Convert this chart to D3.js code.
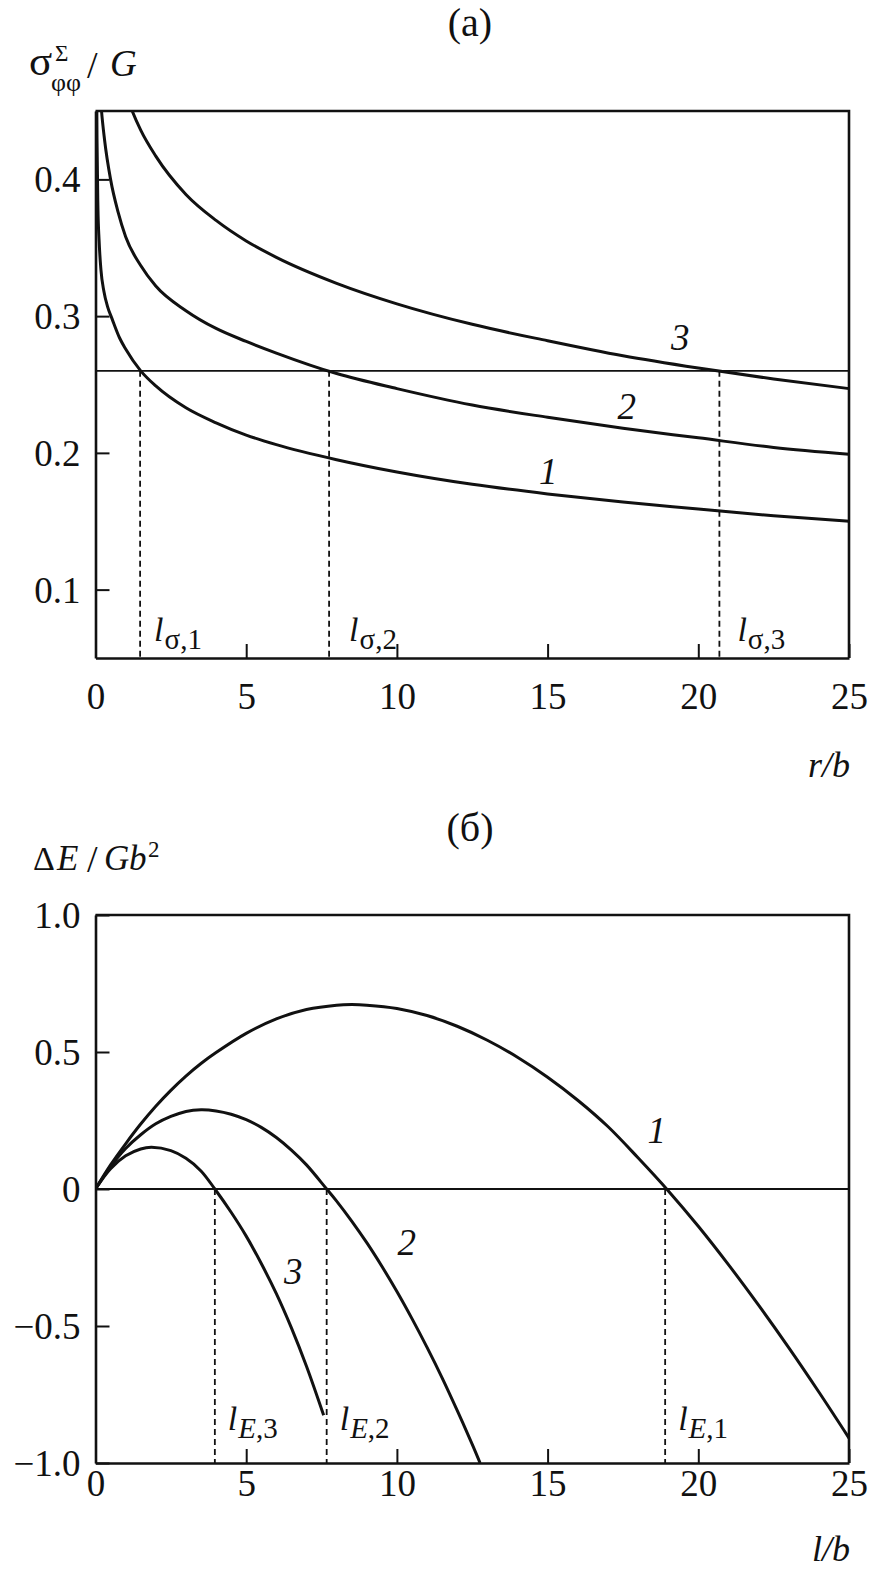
<!DOCTYPE html>
<html><head><meta charset="utf-8">
<script src="https://cdn.jsdelivr.net/npm/d3@7"></script>
<style>
body{margin:0;background:#fff;}
svg text{font-family:"Liberation Serif","Times New Roman",serif;fill:#111;}
</style></head><body>
<svg id="c" width="870" height="1571"></svg>
<script>
// ---------- data ----------
const xTicks = [0, 5, 10, 15, 20, 25];
const yTicksA = [0.1, 0.2, 0.3, 0.4];
const yTickLabelsA = ["0.1", "0.2", "0.3", "0.4"];
const yTicksB = [-1, -0.5, 0, 0.5, 1];
const yTickLabelsB = ["\u22121.0", "\u22120.5", "0", "0.5", "1.0"];

// panel (a): sigma_phiphi / G versus r/b
const sigma1 = [[0.03,0.50],[0.05,0.43],[0.08,0.38],[0.12,0.355],[0.18,0.334],[0.28,0.318],[0.4,0.307],[0.55,0.298],[0.8,0.284],[1,0.276],[1.5,0.260],[2,0.249],[3,0.233],[4,0.222],[5,0.213],[6,0.206],[8,0.195],[10,0.186],[12.5,0.177],[15,0.170],[17.5,0.164],[20,0.159],[22.5,0.154],[25,0.150]];
const sigma2 = [[0.15,0.465],[0.2,0.450],[0.3,0.429],[0.5,0.400],[0.75,0.376],[1,0.358],[1.5,0.337],[2,0.322],[3,0.304],[4,0.291],[5,0.2815],[6,0.273],[8,0.258],[10,0.247],[12.5,0.235],[15,0.226],[17.5,0.218],[20,0.211],[22.5,0.204],[25,0.199]];
const sigma3 = [[1,0.463],[1.2,0.451],[1.5,0.436],[2,0.417],[3,0.389],[4,0.370],[5,0.355],[6,0.343],[8,0.324],[10,0.309],[12.5,0.294],[15,0.282],[17.5,0.271],[20,0.262],[22.5,0.254],[25,0.247]];
const sigmaCrit = 0.26;
const lSigma = [1.48, 7.75, 20.7];
const lSigmaNames = ["\u03c3,1", "\u03c3,2", "\u03c3,3"];
const sigmaCurveNames = [["1", 15.02, 0.187], ["2", 17.63, 0.234], ["3", 19.4, 0.285]];

// panel (б): ΔE / Gb^2 versus l/b
const energy1 = [[0,0],[0.5,0.088],[1,0.165],[1.5,0.237],[2,0.302],[2.5,0.360],[3,0.412],[3.5,0.458],[4,0.498],[5,0.568],[6,0.621],[7,0.655],[8,0.671],[8.5,0.673],[9,0.671],[10,0.659],[11,0.633],[12,0.594],[13,0.543],[14,0.481],[15,0.408],[16,0.324],[17,0.228],[18,0.114],[19,-0.006],[20,-0.136],[21,-0.276],[22,-0.424],[23,-0.579],[24,-0.741],[25,-0.909]];
const energy2 = [[0,0],[0.5,0.082],[1,0.148],[1.5,0.198],[2,0.238],[2.5,0.265],[3,0.283],[3.5,0.289],[4,0.285],[4.5,0.273],[5,0.253],[5.5,0.225],[6,0.188],[6.5,0.142],[7,0.088],[7.67,0],[8,-0.044],[8.5,-0.117],[9,-0.196],[9.5,-0.282],[10,-0.374],[10.5,-0.473],[11,-0.578],[11.5,-0.689],[12,-0.808],[12.5,-0.932],[12.76,-1.0]];
const energy3 = [[0,0],[0.5,0.074],[1,0.121],[1.5,0.146],[1.86,0.152],[2.5,0.140],[3,0.112],[3.5,0.066],[3.96,0],[4.5,-0.085],[5,-0.172],[5.5,-0.272],[6,-0.382],[6.5,-0.507],[7,-0.647],[7.57,-0.826]];
const lEnergy = [18.9, 7.67, 3.96];
const lEnergyNames = ["E,1", "E,2", "E,3"];
const energyCurveNames = [["1", 18.62, 0.215], ["2", 10.33, -0.192], ["3", 6.56, -0.30]];

// ---------- drawing ----------
const svg = d3.select("#c");
const INK = "#111";
const FONT_TICK = 37;

function panel(opts) {
  const x = d3.scaleLinear().domain([0, 25]).range([95.5, 849]);
  const y = d3.scaleLinear().domain(opts.yDomain).range([opts.yBottom, opts.yTop]);
  const g = svg.append("g");
  const clipId = "clip" + opts.id;
  svg.append("clipPath").attr("id", clipId).append("rect")
    .attr("x", x(0)).attr("y", y.range()[1]).attr("width", x(25) - x(0)).attr("height", y.range()[0] - y.range()[1]);

  // reference horizontal line
  g.append("line").attr("x1", x(0)).attr("x2", x(25)).attr("y1", y(opts.refY)).attr("y2", y(opts.refY))
    .attr("stroke", INK).attr("stroke-width", 1.8);

  // dashed verticals
  g.selectAll(".dash").data(opts.dashes).enter().append("line")
    .attr("x1", d => x(d)).attr("x2", d => x(d))
    .attr("y1", y(opts.refY)).attr("y2", y(opts.yDomain[0]))
    .attr("stroke", INK).attr("stroke-width", 1.8).attr("stroke-dasharray", "6,4");

  // curves
  const line = d3.line().x(d => x(d[0])).y(d => y(d[1])).curve(opts.curveType);
  const cg = g.append("g").attr("clip-path", `url(#${clipId})`);
  opts.curves.forEach(c => {
    cg.append("path").attr("d", line(c)).attr("fill", "none").attr("stroke", INK)
      .attr("stroke-width", 3).attr("stroke-linejoin", "round");
  });

  // axes
  const ax = g.append("g").attr("transform", `translate(0,${opts.yBottom})`)
    .call(d3.axisBottom(x).tickValues(xTicks).tickSizeInner(-14).tickSizeOuter(0).tickFormat(d3.format("d")));
  ax.selectAll("text").attr("y", opts.xLabelDy).attr("dy", 0)
    .style("font-size", FONT_TICK + "px").attr("fill", INK);
  const ay = g.append("g").attr("transform", `translate(${x(0)},0)`)
    .call(d3.axisLeft(y).tickValues(opts.yTicks).tickSizeInner(-14).tickSizeOuter(0)
      .tickFormat((d, i) => opts.yTickLabels[i]));
  ay.selectAll("text").attr("x", -15).attr("dy", "0.34em")
    .style("font-size", FONT_TICK + "px").attr("fill", INK);
  [ax, ay].forEach(a => {
    a.attr("font-family", null).attr("font-size", null);
    a.select(".domain").attr("stroke", INK).attr("stroke-width", 2.6);
    a.selectAll(".tick line").attr("stroke", INK).attr("stroke-width", 2);
  });
  // top and right frame
  g.append("path")
    .attr("d", `M${x(0)},${opts.yTop}H${x(25)}V${opts.yBottom}`)
    .attr("fill", "none").attr("stroke", INK).attr("stroke-width", 2.6);

  // curve number labels
  g.selectAll(".cn").data(opts.curveNames).enter().append("text")
    .attr("x", d => x(d[1])).attr("y", d => y(d[2])).attr("dy", "0.35em")
    .attr("text-anchor", "middle").style("font-style", "italic").style("font-size", "37px")
    .text(d => d[0]);

  // dashed-line labels
  opts.dashes.forEach((d, i) => {
    const t = g.append("text").attr("x", x(d) + opts.labelDx[i]).attr("y", opts.labelY);
    t.append("tspan").style("font-style", "italic").style("font-size", "34px").text("l");
    const sub = t.append("tspan").attr("dy", 8).attr("dx", 1).style("font-size", "29px");
    const name = opts.dashNames[i];
    if (opts.subItalic) {
      sub.append("tspan").style("font-style", "italic").text(name.slice(0, 1));
      sub.append("tspan").text(name.slice(1));
    } else {
      sub.text(name);
    }
  });
  return {x, y, g};
}

panel({
  id: "a", yDomain: [0.05, 0.45], yTop: 111, yBottom: 658,
  yTicks: yTicksA, yTickLabels: yTickLabelsA, xLabelDy: 51,
  refY: sigmaCrit, dashes: lSigma, dashNames: lSigmaNames, labelDx: [14, 20, 18], labelY: 641, subItalic: false,
  curves: [sigma1, sigma2, sigma3], curveNames: sigmaCurveNames, curveType: d3.curveMonotoneX
});
panel({
  id: "b", yDomain: [-1, 1], yTop: 915, yBottom: 1463,
  yTicks: yTicksB, yTickLabels: yTickLabelsB, xLabelDy: 33,
  refY: 0, dashes: lEnergy, dashNames: lEnergyNames, labelDx: [13, 13, 13], labelY: 1430, subItalic: true,
  curves: [energy1, energy2, energy3], curveNames: energyCurveNames, curveType: d3.curveCatmullRom.alpha(0.5)
});

// titles
svg.append("text").attr("x", 470).attr("y", 36).attr("text-anchor", "middle").style("font-size", "40px").text("(a)");
svg.append("text").attr("x", 470).attr("y", 841).attr("text-anchor", "middle").style("font-size", "40px").text("(\u0431)");

// axis titles
svg.append("text").attr("x", 850).attr("y", 777).attr("text-anchor", "end").style("font-size", "36px").style("font-style", "italic").text("r/b");
svg.append("text").attr("x", 850).attr("y", 1561).attr("text-anchor", "end").style("font-size", "36px").style("font-style", "italic").text("l/b");

// y-axis title (a): σ^Σ_φφ / G
svg.append("text").attr("x", 29).attr("y", 75).style("font-size", "43px").text("\u03c3");
svg.append("text").attr("x", 55).attr("y", 61).style("font-size", "23px").text("\u03a3");
svg.append("text").attr("x", 51).attr("y", 91).style("font-size", "26px").text("\u03c6\u03c6");
svg.append("text").attr("x", 87).attr("y", 78).style("font-size", "38px").text("/");
svg.append("text").attr("x", 110).attr("y", 76).style("font-size", "37px").style("font-style", "italic").text("G");

// y-axis title (б): ΔE / Gb²
const tb = [["\u0394", 33, 870, 34, false], ["E", 57, 870, 35, true], ["/", 87, 872, 38, false],
            ["G", 104, 870, 35, true], ["b", 129, 870, 35, true], ["2", 148, 857, 23, false]];
tb.forEach(d => {
  svg.append("text").attr("x", d[1]).attr("y", d[2]).style("font-size", d[3] + "px")
    .style("font-style", d[4] ? "italic" : "normal").text(d[0]);
});
</script>
</body></html>
